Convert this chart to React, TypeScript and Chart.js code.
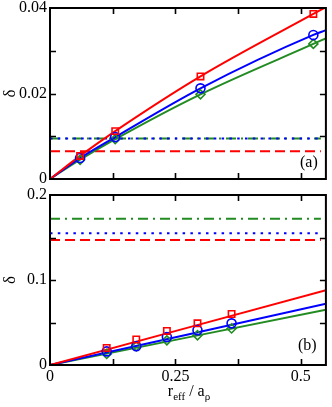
import React, { useEffect, useRef } from 'react';
import { Chart, registerables } from 'chart.js';
Chart.register(...registerables);

// ---------- shared axis data ----------
const X_MAX = 0.55;
const X_TICK_LABELS = [0, 0.25, 0.5];
const X_MINOR_TICKS = [0.125, 0.25, 0.375, 0.5];
const LEVEL_X = [0, 0.54];

// ---------- panel (a) ----------
const A_Y_MAX = 0.04;
const A_Y_TICK_LABELS = [0, 0.02, 0.04];
const A_Y_MINOR_TICKS = [0.01, 0.02, 0.03];
const A_X = [0.06, 0.13, 0.3, 0.525];
const A_RED = [0.0054, 0.0112, 0.024, 0.0386];
const A_BLUE = [0.0049, 0.0098, 0.0212, 0.0337];
const A_GREEN = [0.0045, 0.0093, 0.0198, 0.0316];
const A_FIT_X = [0, 0.06, 0.13, 0.3, 0.525, 0.55];
const A_RED_FIT = [0, 0.0054, 0.0112, 0.024, 0.0386, 0.0402];
const A_BLUE_FIT = [0, 0.0049, 0.0098, 0.0212, 0.0337, 0.0348];
const A_GREEN_FIT = [0, 0.0045, 0.0093, 0.0198, 0.0316, 0.0329];
const A_RED_LEVEL = 0.0065;
const A_BLUE_LEVEL = 0.0095;
const A_GREEN_LEVEL = 0.0095;

// ---------- panel (b) ----------
const B_Y_MAX = 0.2;
const B_Y_TICK_LABELS = [0, 0.1, 0.2];
const B_Y_MINOR_TICKS = [0.05, 0.1, 0.15];
const B_X = [0.113, 0.172, 0.233, 0.294, 0.362];
const B_RED = [0.02, 0.03, 0.04, 0.049, 0.06];
const B_BLUE = [0.016, 0.022, 0.033, 0.041, 0.049];
const B_GREEN = [0.013, 0.022, 0.029, 0.035, 0.043];
const B_FIT_X = [0, 0.55];
const B_RED_FIT = [0, 0.088];
const B_BLUE_FIT = [0, 0.072];
const B_GREEN_FIT = [0, 0.065];
const B_RED_LEVEL = 0.147;
const B_BLUE_LEVEL = 0.155;
const B_GREEN_LEVEL = 0.172;

const RED = '#ff0000';
const BLUE = '#0000ff';
const GREEN = '#228b22';
const FONT = "'Liberation Serif', 'Times New Roman', serif";

const pts = (xs: number[], ys: number[]) => xs.map((x, i) => ({ x, y: ys[i] }));
const fmt = (v: number) => String(Math.round(v * 1000) / 1000);

const framePlugin = {
  id: 'frameTicks',
  afterDatasetsDraw(chart: any, _args: any, opts: any) {
    const { ctx, chartArea: a, scales } = chart;
    ctx.save();
    ctx.strokeStyle = '#000';
    ctx.lineWidth = 1.6;
    const L = 6;
    ctx.beginPath();
    for (const v of opts.x) {
      const px = Math.round(scales.x.getPixelForValue(v)) + 0.5;
      ctx.moveTo(px, a.bottom); ctx.lineTo(px, a.bottom - L);
      ctx.moveTo(px, a.top); ctx.lineTo(px, a.top + L);
    }
    for (const v of opts.y) {
      const py = Math.round(scales.y.getPixelForValue(v)) + 0.5;
      ctx.moveTo(a.left, py); ctx.lineTo(a.left + L, py);
      ctx.moveTo(a.right, py); ctx.lineTo(a.right - L, py);
    }
    ctx.stroke();
    ctx.lineWidth = 2;
    ctx.strokeRect(a.left, a.top, a.right - a.left, a.bottom - a.top);
    ctx.restore();
  },
};

function levelDs(y: number, color: string, dash: number[]) {
  return {
    data: pts(LEVEL_X, LEVEL_X.map(() => y)),
    showLine: true, borderColor: color, borderWidth: 2, borderDash: dash,
    pointRadius: 0, fill: false,
  };
}
function fitDs(xs: number[], ys: number[], color: string) {
  return {
    data: pts(xs, ys), showLine: true, borderColor: color, borderWidth: 2,
    pointRadius: 0, cubicInterpolationMode: 'monotone', fill: false,
  };
}
function markDs(xs: number[], ys: number[], color: string, style: string, r: number) {
  return {
    data: pts(xs, ys), showLine: false, borderColor: color, backgroundColor: 'rgba(0,0,0,0)',
    pointStyle: style, pointRadius: r, pointBorderWidth: 1.6, borderWidth: 1.6,
  };
}

const noPad = (s: any) => { s.paddingTop = 0; s.paddingBottom = 0; s.paddingLeft = 0; s.paddingRight = 0; };

function makeConfig(p: any) {
  return {
    type: 'scatter',
    data: { datasets: p.datasets },
    options: {
      animation: false,
      responsive: false,
      maintainAspectRatio: false,
      events: [],
      layout: { padding: { top: p.padTop, right: 4, left: 0, bottom: 0 } },
      plugins: {
        legend: { display: false },
        tooltip: { enabled: false },
        frameTicks: { x: X_MINOR_TICKS, y: p.yMinor },
      },
      scales: {
        x: {
          type: 'linear', min: 0, max: X_MAX,
          grid: { display: false, drawTicks: false },
          border: { display: false },
          ticks: { display: p.showX, font: { family: FONT, size: 16 }, color: '#000', padding: 2, maxRotation: 0, callback: (v: number) => fmt(v) },
          afterBuildTicks: (s: any) => { s.ticks = X_TICK_LABELS.map((v) => ({ value: v })); },
          afterFit: (s: any) => { s.height = p.xHeight; noPad(s); },
        },
        y: {
          type: 'linear', min: 0, max: p.yMax,
          grid: { display: false, drawTicks: false },
          border: { display: false },
          ticks: { font: { family: FONT, size: 16 }, color: '#000', padding: 3, callback: (v: number) => fmt(v) },
          afterBuildTicks: (s: any) => { s.ticks = p.yLabels.map((v: number) => ({ value: v })); },
          afterFit: (s: any) => { s.width = 50; noPad(s); },
          title: { display: true, text: 'δ', font: { family: FONT, size: 17 }, color: '#000', padding: 0 },
        },
      },
    },
    plugins: [framePlugin],
  };
}

function Panel(props: { cfg: any; top: number; height: number }) {
  const ref = useRef<HTMLCanvasElement>(null);
  useEffect(() => {
    const chart = new Chart(ref.current as HTMLCanvasElement, props.cfg);
    return () => chart.destroy();
  }, []);
  return (
    <canvas ref={ref} width={332} height={props.height}
      style={{ position: 'absolute', left: 0, top: props.top, width: 332, height: props.height }} />
  );
}

const cfgA = makeConfig({
  padTop: 8, xHeight: 7, showX: false, yMax: A_Y_MAX, yLabels: A_Y_TICK_LABELS, yMinor: A_Y_MINOR_TICKS,
  datasets: [
    markDs(A_X, A_RED, RED, 'rect', 4.5),
    markDs(A_X, A_BLUE, BLUE, 'circle', 4.5),
    markDs(A_X, A_GREEN, GREEN, 'rectRot', 4.5),
    fitDs(A_FIT_X, A_RED_FIT, RED),
    fitDs(A_FIT_X, A_BLUE_FIT, BLUE),
    fitDs(A_FIT_X, A_GREEN_FIT, GREEN),
    levelDs(A_BLUE_LEVEL, BLUE, [2.5, 5.3]),
    levelDs(A_GREEN_LEVEL, GREEN, [10, 5, 2, 5]),
    levelDs(A_RED_LEVEL, RED, [10, 5]),
  ],
});

const cfgB = makeConfig({
  padTop: 9, xHeight: 42, showX: true, yMax: B_Y_MAX, yLabels: B_Y_TICK_LABELS, yMinor: B_Y_MINOR_TICKS,
  datasets: [
    markDs(B_X, B_RED, RED, 'rect', 4.5),
    markDs(B_X, B_BLUE, BLUE, 'circle', 4.5),
    markDs(B_X, B_GREEN, GREEN, 'rectRot', 4.5),
    fitDs(B_FIT_X, B_RED_FIT, RED),
    fitDs(B_FIT_X, B_BLUE_FIT, BLUE),
    fitDs(B_FIT_X, B_GREEN_FIT, GREEN),
    levelDs(B_BLUE_LEVEL, BLUE, [2.5, 5.3]),
    levelDs(B_GREEN_LEVEL, GREEN, [10, 5, 2, 5]),
    levelDs(B_RED_LEVEL, RED, [10, 5]),
  ],
});

export default function App() {
  const txt: React.CSSProperties = { position: 'absolute', fontFamily: FONT, fontSize: 16, lineHeight: '16px', color: '#000', whiteSpace: 'nowrap' };
  return (
    <div style={{ position: 'absolute', left: 0, top: 0, width: 332, height: 407, background: '#fff', overflow: 'hidden' }}>
      <Panel cfg={cfgA} top={0} height={186} />
      <Panel cfg={cfgB} top={186} height={221} />
      <div style={{ ...txt, left: 300, top: 154 }}>(a)</div>
      <div style={{ ...txt, left: 298, top: 337 }}>(b)</div>
      <div style={{ ...txt, left: 50, width: 278, top: 383, textAlign: 'center' }}>
        r<sub style={{ fontSize: 11, verticalAlign: '-4px', lineHeight: 0 }}>eff</sub> / a<sub style={{ fontSize: 11, verticalAlign: '-4px', lineHeight: 0 }}>ρ</sub>
      </div>
    </div>
  );
}
